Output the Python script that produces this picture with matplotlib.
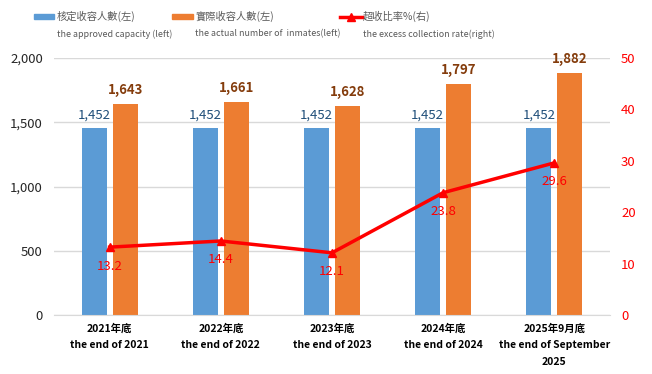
import numpy as np
import matplotlib
matplotlib.use("Agg")
import matplotlib.pyplot as plt
from matplotlib.patches import Rectangle
from matplotlib.lines import Line2D

plt.rcParams['font.family'] = ['Noto Sans CJK TC', 'DejaVu Sans']

categories = ["2021年底\nthe end of 2021", "2022年底\nthe end of 2022", "2023年底\nthe end of 2023",
              "2024年底\nthe end of 2024", "2025年9月底\nthe end of September\n2025"]
approved = [1452, 1452, 1452, 1452, 1452]
actual = [1643, 1661, 1628, 1797, 1882]
excess_rate = [13.2, 14.4, 12.1, 23.8, 29.6]

blue = '#5B9BD5'
orange = '#ED7D31'
red = '#FF0000'
grid_c = '#D9D9D9'
txt_c = '#595959'

fig = plt.figure(figsize=(6.52, 3.74), dpi=100)
ax = fig.add_axes([54 / 652, 59 / 374, 556 / 652, 257 / 374])
ax2 = ax.twinx()

x = np.arange(len(categories))
w = 0.225
off = 0.14
ax.bar(x - off, approved, w, color=blue, zorder=2)
ax.bar(x + off, actual, w, color=orange, zorder=2)

for xi, v in zip(x, approved):
    ax.annotate(f"{v:,}", (xi - off, v), xytext=(0, 5), textcoords='offset points',
                ha='center', va='bottom', fontsize=9.5, color='#1F4E79')
for xi, v in zip(x, actual):
    ax.annotate(f"{v:,}", (xi + off, v), xytext=(0, 5), textcoords='offset points',
                ha='center', va='bottom', fontsize=9.5, color='#843C0C', fontweight='bold')

ax.set_xlim(-0.5, len(categories) - 0.5)
ax.set_ylim(0, 2000)
ax.set_yticks([0, 500, 1000, 1500, 2000])
ax.set_yticklabels([f"{t:,}" for t in [0, 500, 1000, 1500, 2000]], fontsize=9.5, color='#262626')
ax.yaxis.grid(True, color=grid_c, linewidth=1, zorder=0)
ax.set_axisbelow(True)
ax.set_xticks(x)
ax.set_xticklabels(categories, fontsize=7.5, fontweight='bold', color='black', linespacing=1.8)
ax.tick_params(axis='x', length=0, pad=6)
ax.tick_params(axis='y', length=0, pad=8)
for s in ['top', 'right', 'left']:
    ax.spines[s].set_visible(False)
ax.spines['bottom'].set_color(grid_c)

ax2.plot(x, excess_rate, color=red, linewidth=2.5, marker='^', markersize=6, zorder=3)
for xi, v in zip(x, excess_rate):
    ax2.annotate(f"{v}", (xi, v), xytext=(0, -9), textcoords='offset points',
                 ha='center', va='top', fontsize=9.5, color=red, style='italic')
ax2.set_ylim(0, 50)
ax2.set_yticks([0, 10, 20, 30, 40, 50])
ax2.tick_params(axis='y', length=0, colors=red, labelsize=9.5, pad=8)
for s in ['top', 'right', 'left', 'bottom']:
    ax2.spines[s].set_visible(False)

# legend drawn by hand
H, W = 374, 652
def fx(px):
    return px / W
def fy(py):
    return 1 - py / H

fig.patches.append(Rectangle((fx(34), fy(19)), 20 / W, 5 / H, color=blue, transform=fig.transFigure))
fig.patches.append(Rectangle((fx(172), fy(19)), 21 / W, 5 / H, color=orange, transform=fig.transFigure))
fig.lines.append(Line2D([fx(340), fx(362)], [fy(16.5), fy(16.5)], color=red, linewidth=2.5,
                        transform=fig.transFigure))
fig.lines.append(Line2D([fx(351)], [fy(16.5)], color=red, marker='^', markersize=6,
                        transform=fig.transFigure))

fig.text(fx(57), fy(16.5), "核定收容人數(左)", fontsize=7.4, color=txt_c, va='center')
fig.text(fx(195), fy(16.5), "實際收容人數(左)", fontsize=7.4, color=txt_c, va='center')
fig.text(fx(363), fy(16.5), "超收比率%(右)", fontsize=7.4, color=txt_c, va='center')
fig.text(fx(57), fy(34), "the approved capacity (left)", fontsize=6.4, color=txt_c, va='center')
fig.text(fx(195), fy(34), "the actual number of  inmates(left)", fontsize=6.4, color=txt_c, va='center')
fig.text(fx(363), fy(34), "the excess collection rate(right)", fontsize=6.4, color=txt_c, va='center')

fig.savefig("out.png", dpi=100)
